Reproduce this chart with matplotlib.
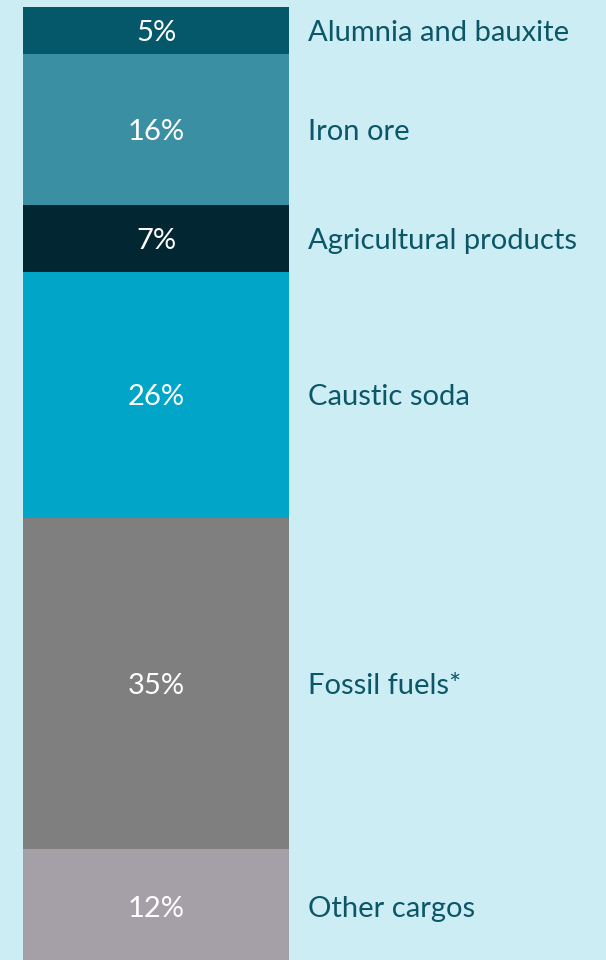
import matplotlib
matplotlib.use("Agg")
import matplotlib.pyplot as plt

categories = ["Alumnia and bauxite", "Iron ore", "Agricultural products",
              "Caustic soda", "Fossil fuels*", "Other cargos"]
shares = [5, 16, 7, 26, 35, 12]
colors = ["#05576a", "#3b8fa3", "#022733", "#00a5c8", "#7f7f7f", "#a59fa8"]

bg = "#cdedf4"
label_color = "#0b5768"

plt.rcParams['font.family'] = ['Lato', 'DejaVu Sans']

fig = plt.figure(figsize=(6.06, 9.6), dpi=100, facecolor=bg)
# bar spans pixel x 23..289, top at y 6.5, runs off the bottom edge
ax = fig.add_axes([23 / 606, 0, 266 / 606, 1 - 6.5 / 960])
ax.set_facecolor(bg)
ax.patch.set_alpha(0)
trans = ax.get_yaxis_transform()

bottom = 0
for cat, val, col in zip(categories, shares, colors):
    ax.bar(0, val, bottom=bottom, width=1.0, color=col, linewidth=0)
    mid = bottom + val / 2
    ax.text(0, mid, f"{val}%", ha="center", va="center_baseline", color="white",
            fontsize=21)
    ax.text(1.0 + 19 / 266, mid, cat, ha="left", va="center_baseline",
            color=label_color, fontsize=21, clip_on=False, transform=trans)
    bottom += val

ax.set_xlim(-0.5, 0.5)
ax.set_ylim(100.7, 0)
ax.axis("off")

fig.savefig("out.png", dpi=100, facecolor=bg)
